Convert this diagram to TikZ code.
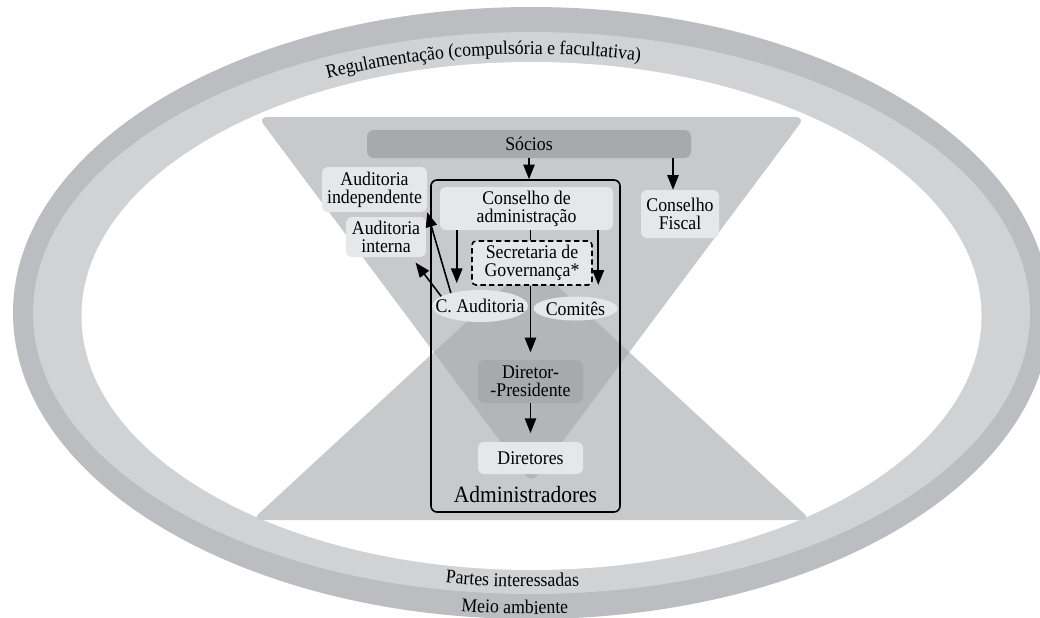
\documentclass[tikz,border=0pt]{standalone}
\usepackage{fontspec}
\setmainfont{Liberation Serif}[FakeStretch=0.92]
\usetikzlibrary{arrows.meta,calc,shapes.geometric,decorations.text}

\definecolor{ringdark}{HTML}{BCBDC0}
\definecolor{ringlight}{HTML}{D1D2D4}
\definecolor{glass}{HTML}{C8C9CB}
\definecolor{glassdark}{HTML}{B4B5B8}
\definecolor{boxdark}{HTML}{A8A9AC}
\definecolor{boxlight}{HTML}{E6E7E8}

\begin{document}
\begin{tikzpicture}[x=0.75pt,y=-0.75pt,
  font=\fontsize{14.5}{13.5}\selectfont,
  lbox/.style={fill=boxlight, rounded corners=4pt, inner sep=0pt, align=center},
  dbox/.style={fill=boxdark, rounded corners=5pt, inner sep=0pt, align=center},
  lell/.style={ellipse, fill=boxlight, inner sep=0pt},
  frame/.style={draw=black, line width=1.2pt, rounded corners=4.5pt, inner sep=0pt},
  dashbox/.style={lbox, draw=black, line width=1.2pt, dash pattern=on 4pt off 2.5pt, rounded corners=3pt},
  arr/.style={line width=1.2pt, -{Triangle[length=11pt,width=8.5pt]}},
  tick/.style={line width=1.2pt}
]
\useasboundingbox (0,0) rectangle (1040,618);
\clip (0,0) rectangle (1040,618);

% outer rings
\fill[ringdark] (531.5,313) ellipse [x radius=518.5, y radius=306];
\fill[ringlight] (531.5,313) ellipse [x radius=498.5, y radius=281];
\fill[white] (531.5,316) ellipse [x radius=450, y radius=254];

% hourglass: two overlapping triangles, overlap darker
\fill[glass, rounded corners=7pt] (258,117) -- (805,117) -- (531.5,483) -- cycle;
\fill[glass, rounded corners=7pt] (252,520) -- (811,520) -- (531.5,262) -- cycle;
\begin{scope}
  \clip[rounded corners=7pt] (258,117) -- (805,117) -- (531.5,483) -- cycle;
  \fill[glassdark, rounded corners=7pt] (252,520) -- (811,520) -- (531.5,262) -- cycle;
\end{scope}

% ring labels
\path[decorate, decoration={text along path, text align=center,
  text={|\fontsize{14.5}{15}\selectfont|Regulamentação (compulsória e facultativa)}}]
  (531.5,313) ++(233.6:480 and 259) arc[start angle=233.6, end angle=293.6, x radius=480, y radius=259];
\path[decorate, decoration={text along path, text align=center,
  text={|\fontsize{14.5}{15}\selectfont|Partes interessadas}}]
  (531.5,314) ++(112.4:480 and 273) arc[start angle=112.4, end angle=72.4, x radius=480, y radius=273];
\path[decorate, decoration={text along path, text align=center,
  text={|\fontsize{14.5}{15}\selectfont|Meio ambiente}}]
  (531.5,314) ++(112:500 and 300) arc[start angle=112, end angle=72, x radius=500, y radius=300];

% boxes (sizes in pt = 0.75 x pixel size)
\node[dbox, minimum width=243pt, minimum height=21pt] (socios) at (529,144) {Sócios};
\node[frame, minimum width=141.75pt, minimum height=249pt] (adm) at (525.5,346) {};
\node[lbox, minimum width=129.75pt, minimum height=32.25pt] (ca) at (526.5,208.5) {Conselho de\\administração};
\node[dashbox, minimum width=90pt, minimum height=33pt] (sec) at (532,263) {Secretaria de\\Governança*};
\node[lbox, minimum width=78.75pt, minimum height=33.75pt] (audind) at (374.5,189.5) {Auditoria\\independente};
\node[lbox, minimum width=60pt, minimum height=30pt] (audint) at (386,237) {Auditoria\\interna};
\node[lbox, minimum width=58.5pt, minimum height=36pt] (fiscal) at (680,214) {Conselho\\Fiscal};
\node[lell, minimum width=72pt, minimum height=24pt] (caud) at (480,306) {\makebox[0pt]{C. Auditoria}};
\node[lell, minimum width=63pt, minimum height=18pt] (comites) at (575.5,308.5) {Comitês};
\node[dbox, minimum width=78.75pt, minimum height=32.25pt] (dp) at (530.5,381.5) {Diretor-\\-Presidente};
\node[lbox, minimum width=78.75pt, minimum height=24pt] (dir) at (530.5,458) {Diretores};
\node[anchor=base, font=\fontsize{17.5}{19}\selectfont] (admlabel) at (525.5,502) {Administradores};

% connectors
\coordinate (fisc-in) at ($(fiscal.north)+(-7,0)$);
\coordinate (ca-l) at ($(ca.south west)+(17,0)$);
\coordinate (ca-r) at ($(ca.south east)+(-15,0)$);
\draw[arr] (socios.south) -- (socios.south |- adm.north);
\draw[arr] (fisc-in |- socios.south) -- (fisc-in);
\draw[arr, shorten >=5pt] (ca-l) -- (ca-l |- caud.north);
\draw[arr, shorten >=8.5pt] (ca-r) -- (ca-r |- comites.north);
\draw[tick] (dp.north |- ca.south) -- (dp.north |- sec.north);
\draw[arr, shorten >=5.5pt] (dp.north |- sec.south) -- (dp.north);
\draw[arr, shorten >=6.5pt] (dp.south) -- (dir.north);
\draw[arr] (caud.156) -- (audind.south east);
\draw[arr] (caud.166) -- ([xshift=-8pt,yshift=-4pt]audint.south east);
\end{tikzpicture}
\end{document}
